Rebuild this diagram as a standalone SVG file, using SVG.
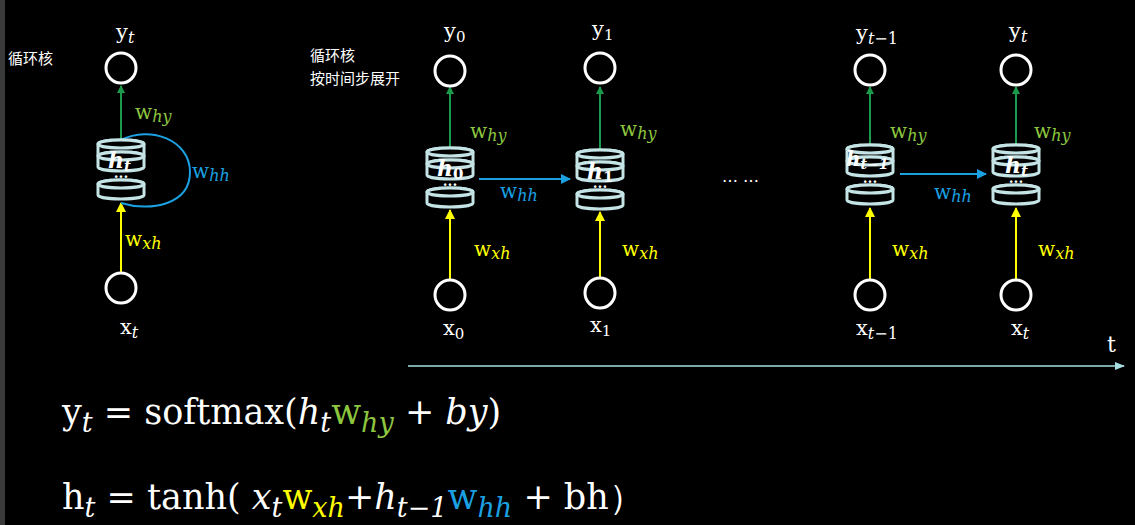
<svg xmlns="http://www.w3.org/2000/svg" width="1135" height="525" viewBox="0 0 1135 525">
<defs>
<style>
.t{font-family:"DejaVu Serif",serif;fill:#fff}
text{font-family:"DejaVu Serif",serif}
.c{fill:none;stroke:#fff;stroke-width:3}
.cy{fill:#000;stroke:#c5e4e6;stroke-width:3}
.g{stroke:#1a9a4a;stroke-width:2;fill:none}
.yl{stroke:#ffff00;stroke-width:2;fill:none}
.b{stroke:#1ba1e2;stroke-width:2;fill:none}
.gl{fill:#8dc63f}.bl{fill:#1ba1e2}.yw{fill:#ffff00}
.cn{font-family:"Noto Sans CJK SC",sans-serif;fill:#fff;font-size:15px}
</style>
<marker id="mg" markerWidth="8" markerHeight="8" refX="7" refY="4" orient="auto" markerUnits="userSpaceOnUse"><path d="M0,0L8,4L0,8z" fill="#1a9a4a"/></marker>
<marker id="my" markerWidth="10" markerHeight="10" refX="9" refY="5" orient="auto" markerUnits="userSpaceOnUse"><path d="M0,0L10,5L0,10z" fill="#ffff00"/></marker>
<marker id="mb" markerWidth="10" markerHeight="10" refX="9" refY="5" orient="auto" markerUnits="userSpaceOnUse"><path d="M0,0L10,5L0,10z" fill="#1ba1e2"/></marker>
<marker id="mt" markerWidth="10" markerHeight="8" refX="9" refY="4" orient="auto" markerUnits="userSpaceOnUse"><path d="M0,0L10,4L0,8z" fill="#a8dde0"/></marker>
<g id="cell">
<path class="cy" d="M-23,4a23,4 0 0 1 46,0v11a23,4 0 0 1 -46,0z"/><ellipse class="cy" cx="0" cy="4" rx="23" ry="4"/>
<path class="cy" d="M-23,16a23,4 0 0 1 46,0v11a23,4 0 0 1 -46,0z"/><ellipse class="cy" cx="0" cy="16" rx="23" ry="4"/>
<text x="0" y="38" text-anchor="middle" fill="#fff" font-family="Liberation Sans" font-size="14" font-weight="bold">...</text>
<path class="cy" d="M-23,44a23,4 0 0 1 46,0v11a23,4 0 0 1 -46,0z"/><ellipse class="cy" cx="0" cy="44" rx="23" ry="4"/>
</g>
</defs>
<rect width="1135" height="525" fill="#000"/>
<rect width="5" height="525" fill="#3a3a3a"/>
<g id="connectors">
<path class="g" d="M121,140V86" marker-end="url(#mg)"/>
<path class="yl" d="M121,272V203" marker-end="url(#my)"/>
<path class="b" d="M121,140C150,125 190,140 190,172C190,205 150,212 121,203"/>
<path class="g" d="M450,148V87" marker-end="url(#mg)"/>
<path class="g" d="M600,150V87" marker-end="url(#mg)"/>
<path class="g" d="M870,145V87" marker-end="url(#mg)"/>
<path class="g" d="M1016,145V87" marker-end="url(#mg)"/>
<path class="yl" d="M450,279V210" marker-end="url(#my)"/>
<path class="yl" d="M600,277V212" marker-end="url(#my)"/>
<path class="yl" d="M870,279V208" marker-end="url(#my)"/>
<path class="yl" d="M1016,279V208" marker-end="url(#my)"/>
<path class="b" d="M479,179H570" marker-end="url(#mb)"/>
<path class="b" d="M900,174H986" marker-end="url(#mb)"/>
<path d="M408,366H1124" stroke="#a8dde0" stroke-width="1.5" marker-end="url(#mt)"/>
</g>
<text class="cn" x="8" y="64">循环核</text>
<text class="cn" x="310" y="61">循环核</text>
<text class="cn" x="310" y="84">按时间步展开</text>
<g id="n0">
<circle class="c" cx="121" cy="68" r="15"/><text class="t" x="116" y="39" font-size="21">y<tspan font-style="italic" font-size="16" dy="4">t</tspan></text>
<use href="#cell" x="121" y="140"/><text class="t" x="108" y="168" font-size="22" font-weight="bold" font-style="italic">h<tspan font-size="15" dy="3">t</tspan></text>
<text x="135" y="119" font-size="20" class="gl">w<tspan font-style="italic" font-size="16" dy="3">hy</tspan></text>
<text x="192" y="178" font-size="20" class="bl">w<tspan font-style="italic" font-size="16" dy="3">hh</tspan></text>
<text x="125" y="246" font-size="20" class="yw">w<tspan font-style="italic" font-size="16" dy="3">xh</tspan></text>
<circle class="c" cx="121" cy="288" r="15"/><text class="t" x="120" y="334" font-size="21">x<tspan font-style="italic" font-size="16" dy="4">t</tspan></text>
</g>
<g id="n1">
<circle class="c" cx="450" cy="71" r="15"/><text class="t" x="444" y="38" font-size="21">y<tspan font-size="15" dy="4">0</tspan></text>
<use href="#cell" x="450" y="148"/><text class="t" x="437" y="176" font-size="22" font-weight="bold" font-style="italic">h<tspan font-style="normal" font-size="15" dy="3">0</tspan></text>
<text x="470" y="138" font-size="20" class="gl">w<tspan font-style="italic" font-size="16" dy="3">hy</tspan></text>
<text x="500" y="198" font-size="20" class="bl">w<tspan font-style="italic" font-size="16" dy="3">hh</tspan></text>
<text x="474" y="256" font-size="20" class="yw">w<tspan font-style="italic" font-size="16" dy="3">xh</tspan></text>
<circle class="c" cx="450" cy="295" r="15"/><text class="t" x="443" y="335" font-size="21">x<tspan font-size="15" dy="4">0</tspan></text>
</g>
<g id="n2">
<circle class="c" cx="600" cy="68" r="15"/><text class="t" x="592" y="36" font-size="21">y<tspan font-size="15" dy="4">1</tspan></text>
<use href="#cell" x="600" y="150"/><text class="t" x="587" y="179" font-size="22" font-weight="bold" font-style="italic">h<tspan font-style="normal" font-size="15" dy="3">1</tspan></text>
<text x="620" y="136" font-size="20" class="gl">w<tspan font-style="italic" font-size="16" dy="3">hy</tspan></text>
<text x="622" y="256" font-size="20" class="yw">w<tspan font-style="italic" font-size="16" dy="3">xh</tspan></text>
<circle class="c" cx="600" cy="293" r="15"/><text class="t" x="590" y="332" font-size="21">x<tspan font-size="15" dy="4">1</tspan></text>
</g>
<text class="t" x="722" y="182" font-size="16">… …</text>
<g id="n3">
<circle class="c" cx="870" cy="70" r="15"/><text class="t" x="856" y="40" font-size="21">y<tspan font-style="italic" font-size="16" dy="4">t</tspan><tspan font-size="16">−1</tspan></text>
<use href="#cell" x="870" y="145"/><text class="t" x="846" y="166" font-size="20" font-weight="bold" font-style="italic">h<tspan font-size="14" dy="3">t−1</tspan></text>
<text x="890" y="138" font-size="20" class="gl">w<tspan font-style="italic" font-size="16" dy="3">hy</tspan></text>
<text x="934" y="199" font-size="20" class="bl">w<tspan font-style="italic" font-size="16" dy="3">hh</tspan></text>
<text x="892" y="256" font-size="20" class="yw">w<tspan font-style="italic" font-size="16" dy="3">xh</tspan></text>
<circle class="c" cx="870" cy="295" r="15"/><text class="t" x="856" y="335" font-size="21">x<tspan font-style="italic" font-size="16" dy="4">t</tspan><tspan font-size="16">−1</tspan></text>
</g>
<g id="n4">
<circle class="c" cx="1016" cy="70" r="15"/><text class="t" x="1009" y="38" font-size="21">y<tspan font-style="italic" font-size="16" dy="4">t</tspan></text>
<use href="#cell" x="1016" y="145"/><text class="t" x="1005" y="173" font-size="22" font-weight="bold" font-style="italic">h<tspan font-size="15" dy="3">t</tspan></text>
<text x="1034" y="138" font-size="20" class="gl">w<tspan font-style="italic" font-size="16" dy="3">hy</tspan></text>
<text x="1038" y="256" font-size="20" class="yw">w<tspan font-style="italic" font-size="16" dy="3">xh</tspan></text>
<circle class="c" cx="1016" cy="295" r="15"/><text class="t" x="1011" y="335" font-size="21">x<tspan font-style="italic" font-size="16" dy="4">t</tspan></text>
</g>
<text class="t" x="1107" y="352" font-size="22" font-family="Liberation Sans">t</text>
<text class="t" x="62" y="424" font-size="35">y<tspan font-style="italic" font-size="27" dy="8">t</tspan><tspan dy="-8"> = softmax(</tspan><tspan font-style="italic">h</tspan><tspan font-style="italic" font-size="27" dy="8">t</tspan><tspan class="gl" dy="-8">w</tspan><tspan class="gl" font-style="italic" font-size="27" dy="8">hy</tspan><tspan dy="-8"> + </tspan><tspan font-style="italic">by</tspan>)</text>
<text class="t" x="62" y="509" font-size="35">h<tspan font-style="italic" font-size="27" dy="8">t</tspan><tspan dy="-8"> = tanh( </tspan><tspan font-style="italic">x</tspan><tspan font-style="italic" font-size="27" dy="8">t</tspan><tspan class="yw" dy="-8">w</tspan><tspan class="yw" font-style="italic" font-size="27" dy="8">xh</tspan><tspan dy="-8">+</tspan><tspan font-style="italic">h</tspan><tspan font-style="italic" font-size="27" dy="8">t−1</tspan><tspan class="bl" dy="-8">w</tspan><tspan class="bl" font-style="italic" font-size="27" dy="8">hh</tspan><tspan dy="-8"> + bh）</tspan></text>
</svg>
